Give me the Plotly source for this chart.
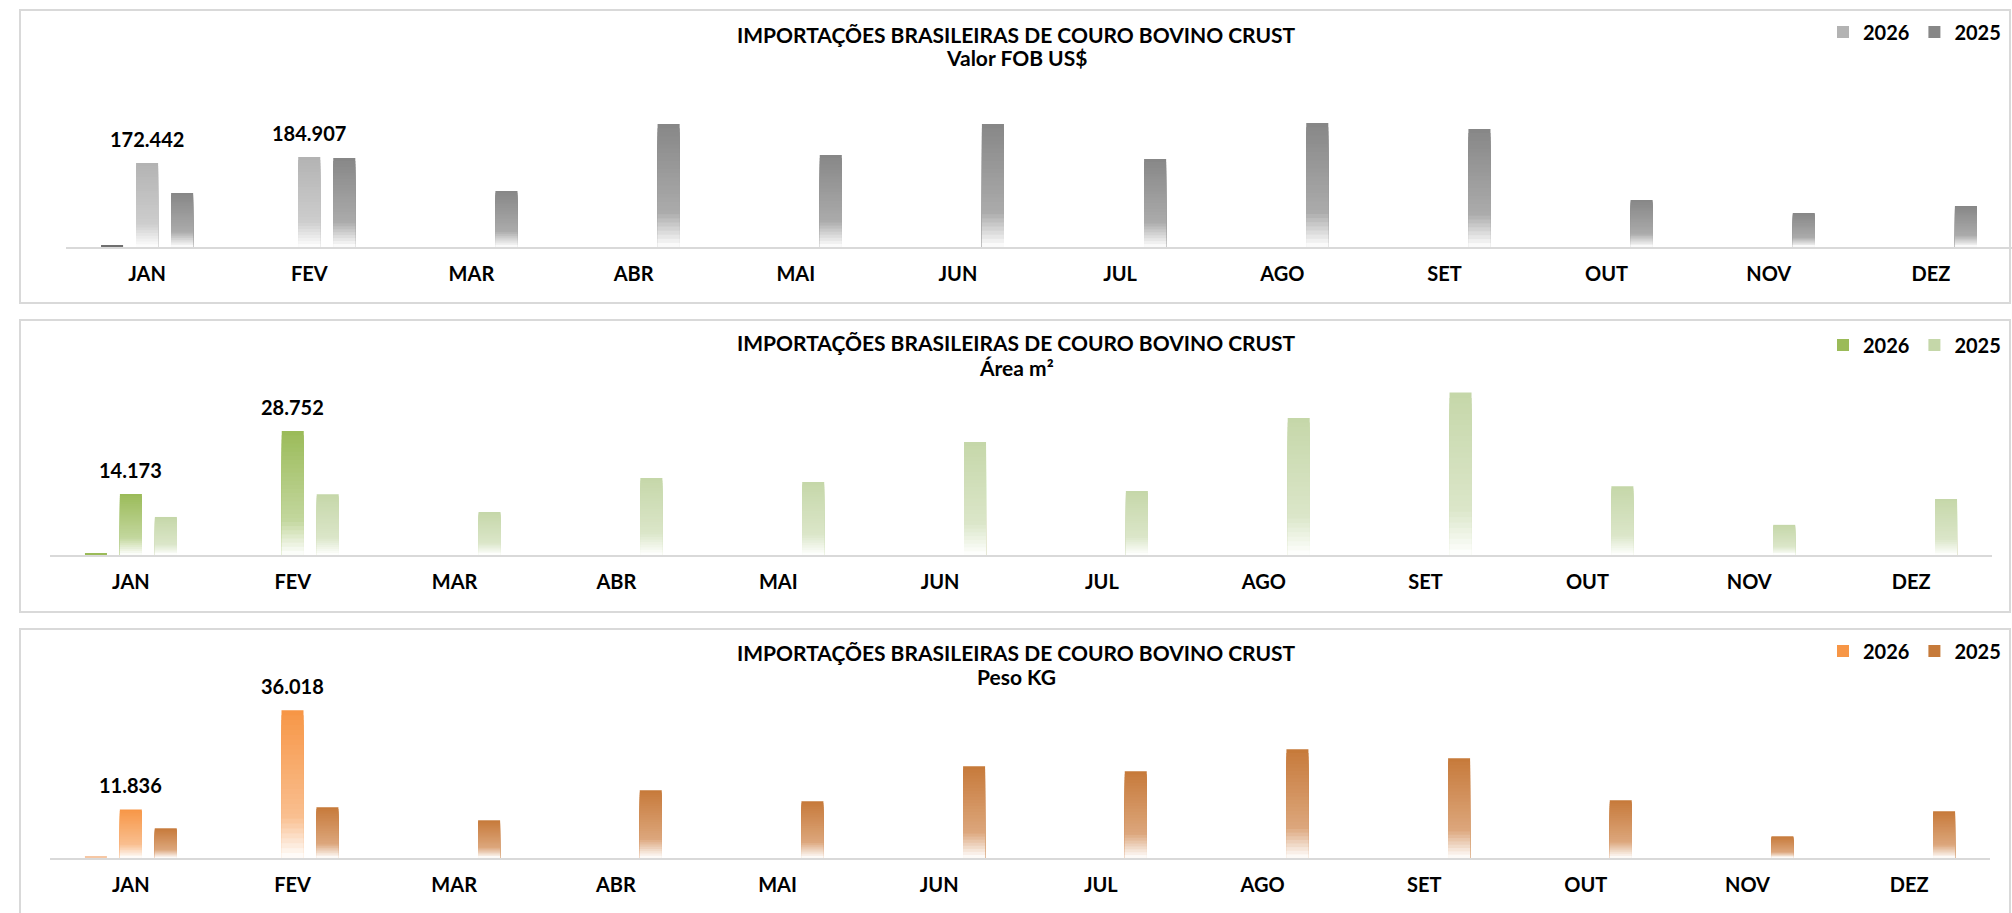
import plotly.graph_objects as go

# ---------------- data ----------------
months = ["JAN", "FEV", "MAR", "ABR", "MAI", "JUN", "JUL", "AGO", "SET", "OUT", "NOV", "DEZ"]

fob_2026 = [172442, 184907, None, None, None, None, None, None, None, None, None, None]
fob_2025 = [110900, 182700, 115000, 252500, 188900, 252500, 180700, 254600, 242300, 96500, 69800, 84200]
fob_aux = [3000, None, None, None, None, None, None, None, None, None, None, None]

area_2026 = [14173, 28752, None, None, None, None, None, None, None, None, None, None]
area_2025 = [8830, 14100, 9990, 17890, 16950, 26240, 14860, 31800, 37700, 15950, 7000, 13000]
area_aux = [300, None, None, None, None, None, None, None, None, None, None, None]

peso_2026 = [11836, 36018, None, None, None, None, None, None, None, None, None, None]
peso_2025 = [7240, 12360, 9190, 16500, 13800, 22360, 21140, 26500, 24300, 14070, 5290, 11390]
peso_aux = [250, None, None, None, None, None, None, None, None, None, None, None]

title_main = "IMPORTAÇÕES BRASILEIRAS DE COURO BOVINO CRUST"
subtitles = ["Valor FOB US$", "Área m²", "Peso KG"]
series_names = ["2026", "2025"]

# ---------------- style ----------------
W, H = 2012, 913
FONT = "Lato"
N_SEG = 30
BAR_W = 0.136
PITCH = 0.216


def px_x(x):
    return x / W


def px_y(y):
    return 1 - y / H


def hex2rgb(h):
    h = h.lstrip("#")
    return tuple(int(h[i:i + 2], 16) for i in (0, 2, 4))


def lerp(c1, c2, t):
    return tuple(c1[i] + (c2[i] - c1[i]) * t for i in range(3))


def grad_color(top, mid, t):
    # t = 0 at top of bar, 1 at bottom
    a, b, w = hex2rgb(top), hex2rgb(mid), (255, 255, 255)
    if t < 0.72:
        c = lerp(a, b, t / 0.72)
    else:
        c = lerp(b, w, min(1.0, (t - 0.72) / 0.28))
    return "rgb(%d,%d,%d)" % tuple(round(v) for v in c)


panels = [
    dict(data=(fob_aux, fob_2026, fob_2025), sub=subtitles[0],
         colors=(("#6f6f6f", "#7a7a7a"), ("#b3b3b3", "#cdcdcd"), ("#878787", "#ababab")),
         xdom=(66, 2012), ybase=247, ytop=60, scale=2053.5,
         title_y=(34, 58), legend_y=32, box=(10, 303)),
    dict(data=(area_aux, area_2026, area_2025), sub=subtitles[1],
         colors=(("#9bbb59", "#a9c46e"), ("#9bbb59", "#c3d79e"), ("#c5d7a9", "#dbe6c9")),
         xdom=(50, 1992), ybase=555, ytop=370, scale=232.1,
         title_y=(342, 367), legend_y=345, box=(320, 612)),
    dict(data=(peso_aux, peso_2026, peso_2025), sub=subtitles[2],
         colors=(("#f6c7a4", "#f6c7a4"), ("#f79646", "#f9bf90"), ("#c67a3a", "#dca67c")),
         xdom=(50, 1990), ybase=858, ytop=680, scale=243.7,
         title_y=(652, 676), legend_y=651, box=(629, 1000)),
]

fig = go.Figure()
layout = dict(
    width=W, height=H,
    margin=dict(l=0, r=0, t=0, b=0),
    paper_bgcolor="white", plot_bgcolor="white",
    barmode="overlay",
    showlegend=True,
    shapes=[], annotations=[],
    font=dict(family=FONT, color="black"),
)

offsets = [-PITCH, 0.0, PITCH]

for p_i, p in enumerate(panels):
    k = "" if p_i == 0 else str(p_i + 1)
    xa, ya = "x" + k, "y" + k
    leg = "legend" + k
    for s_i, vals in enumerate(p["data"]):
        top, mid = p["colors"][s_i]
        segs = 1 if s_i == 0 else N_SEG
        for j in range(segs):
            # trace j covers 0 .. v*(1 - j/segs); later (shorter) traces paint over the lower part
            frac = 1 - j / segs
            ys = [None if v is None else v * frac for v in vals]
            col = top if segs == 1 else grad_color(top, mid, (j + 0.5) / segs)
            show = (s_i > 0 and j == 0)
            fig.add_trace(go.Bar(
                x=months, y=ys,
                xaxis=xa, yaxis=ya,
                width=BAR_W, offset=offsets[s_i] - BAR_W / 2,
                marker=dict(color=top if show else col, line=dict(width=0)),
                name=series_names[s_i - 1] if s_i > 0 else "",
                legend=leg, showlegend=show,
                hoverinfo="skip",
            ))
    rng = (p["ybase"] - p["ytop"]) * p["scale"]
    layout["xaxis" + k] = dict(
        domain=[px_x(p["xdom"][0]), px_x(p["xdom"][1])],
        anchor=ya, type="category", categoryorder="array", categoryarray=months,
        range=[-0.5, 11.5],
        showline=True, linecolor="#d9d9d9", linewidth=2,
        showgrid=False, zeroline=False, ticks="",
        tickfont=dict(family=FONT, size=20, color="black", weight="bold"),
        ticklabelstandoff=8,
        fixedrange=True,
    )
    layout["yaxis" + k] = dict(
        domain=[px_y(p["ybase"]), px_y(p["ytop"])],
        anchor=xa, range=[0, rng], visible=False, showgrid=False, zeroline=False,
        fixedrange=True,
    )
    layout[leg] = dict(
        x=px_x(2006), xanchor="right", y=px_y(p["legend_y"]), yanchor="middle",
        orientation="h", bgcolor="rgba(0,0,0,0)",
        font=dict(family=FONT, size=20, color="black", weight="bold"),
        itemclick=False, itemdoubleclick=False, traceorder="normal",
        tracegroupgap=0, itemwidth=30,
    )
    # panel border
    layout["shapes"].append(dict(
        type="rect", xref="paper", yref="paper",
        x0=px_x(20), x1=px_x(2010), y0=px_y(p["box"][1]), y1=px_y(p["box"][0]),
        line=dict(color="#d9d9d9", width=2), fillcolor="rgba(0,0,0,0)", layer="below",
    ))
    # titles
    layout["annotations"].append(dict(
        text=title_main, xref="paper", yref="paper", x=px_x(1016), y=px_y(p["title_y"][0]),
        xanchor="center", yanchor="middle", showarrow=False,
        font=dict(family=FONT, size=21, color="black", weight="bold"),
    ))
    layout["annotations"].append(dict(
        text=p["sub"], xref="paper", yref="paper", x=px_x(1016), y=px_y(p["title_y"][1]),
        xanchor="center", yanchor="middle", showarrow=False,
        font=dict(family=FONT, size=21, color="black", weight="bold"),
    ))
    # data labels on the 2026 series
    for m, v in zip(months, p["data"][1]):
        if v is None:
            continue
        layout["annotations"].append(dict(
            text=f"{v:,}".replace(",", "."), xref=xa, yref=ya, x=m, y=v,
            xanchor="center", yanchor="bottom", showarrow=False, yshift=10,
            font=dict(family=FONT, size=20, color="black", weight="bold"),
        ))

fig.update_layout(**layout)
fig.write_html("out.html")
